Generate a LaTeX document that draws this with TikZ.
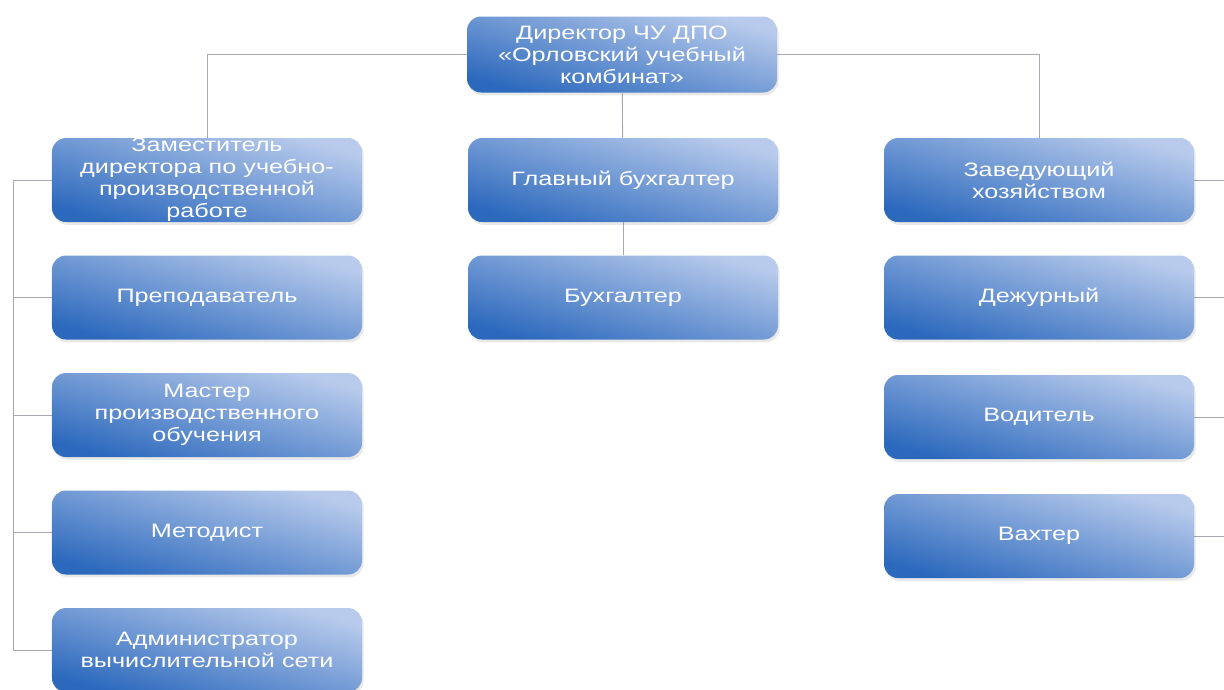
\documentclass[tikz,border=0pt]{standalone}
\usepackage{fontspec}
\setmainfont[FakeStretch=1.3]{Liberation Sans}
\usetikzlibrary{shadows}
\pgfdeclarelayer{bg}
\pgfsetlayers{bg,main}
\definecolor{boxlight}{HTML}{B8CBEC}
\definecolor{boxdark}{HTML}{2C69BD}
\definecolor{linkgray}{HTML}{A6A7B0}
\tikzset{
    post/.style={rectangle, rounded corners=3.5mm, inner sep=0pt,
    	minimum width=77.5mm, minimum height=21mm, align=center,
    	top color=boxlight, bottom color=boxdark, shading angle=-16,
    	text=white, font=\fontsize{13.8}{15.6}\selectfont,
    	drop shadow={opacity=0.18, shadow xshift=0.4mm, shadow yshift=-0.7mm}},
    link/.style={draw=linkgray, line width=0.6pt}
}

\begin{document}
\begin{tikzpicture}[x=0.25mm, y=-0.25mm]
  \useasboundingbox (0,0) rectangle (1224,689);

  \node[post, minimum height=19mm] (d0) at (622, 54.5) {Директор ЧУ ДПО\\«Орловский учебный\\комбинат»};

  \node[post] (l1) at (207, 180) {Заместитель\\директора по учебно-\\производственной\\работе};
  \node[post] (l2) at (207, 297.5) {Преподаватель};
  \node[post] (l3) at (207, 415) {Мастер\\производственного\\обучения};
  \node[post] (l4) at (207, 532.5) {Методист};
  \node[post] (l5) at (207, 650) {Администратор\\вычислительной сети};

  \node[post] (m1) at (623, 180) {Главный бухгалтер};
  \node[post] (m2) at (623, 297.5) {Бухгалтер};

  \node[post] (r1) at (1039, 180) {Заведующий\\хозяйством};
  \node[post] (r2) at (1039, 297.5) {Дежурный};
  \node[post] (r3) at (1039, 417) {Водитель};
  \node[post] (r4) at (1039, 536) {Вахтер};

  \coordinate (lb) at (13, 180);
  \coordinate (rb) at (1226, 180);

  \begin{pgfonlayer}{bg}
	  \draw[link] (d0.west) -| (l1.north); \draw[link] (d0.east) -| (r1.north);
	  \draw[link] (d0) -- (m1); \draw[link] (m1) -- (m2);
	  \draw[link] (l1.west) -- (l1.west -| lb) |- (l5.west);
	  \draw[link] (l2.west) -- (l2.west -| lb); \draw[link] (l3.west) -- (l3.west -| lb);
	  \draw[link] (l4.west) -- (l4.west -| lb);
	  \draw[link] (r1.east) -- (r1.east -| rb); \draw[link] (r2.east) -- (r2.east -| rb);
	  \draw[link] (r3.east) -- (r3.east -| rb); \draw[link] (r4.east) -- (r4.east -| rb);
  \end{pgfonlayer}

\end{tikzpicture}
\end{document}
